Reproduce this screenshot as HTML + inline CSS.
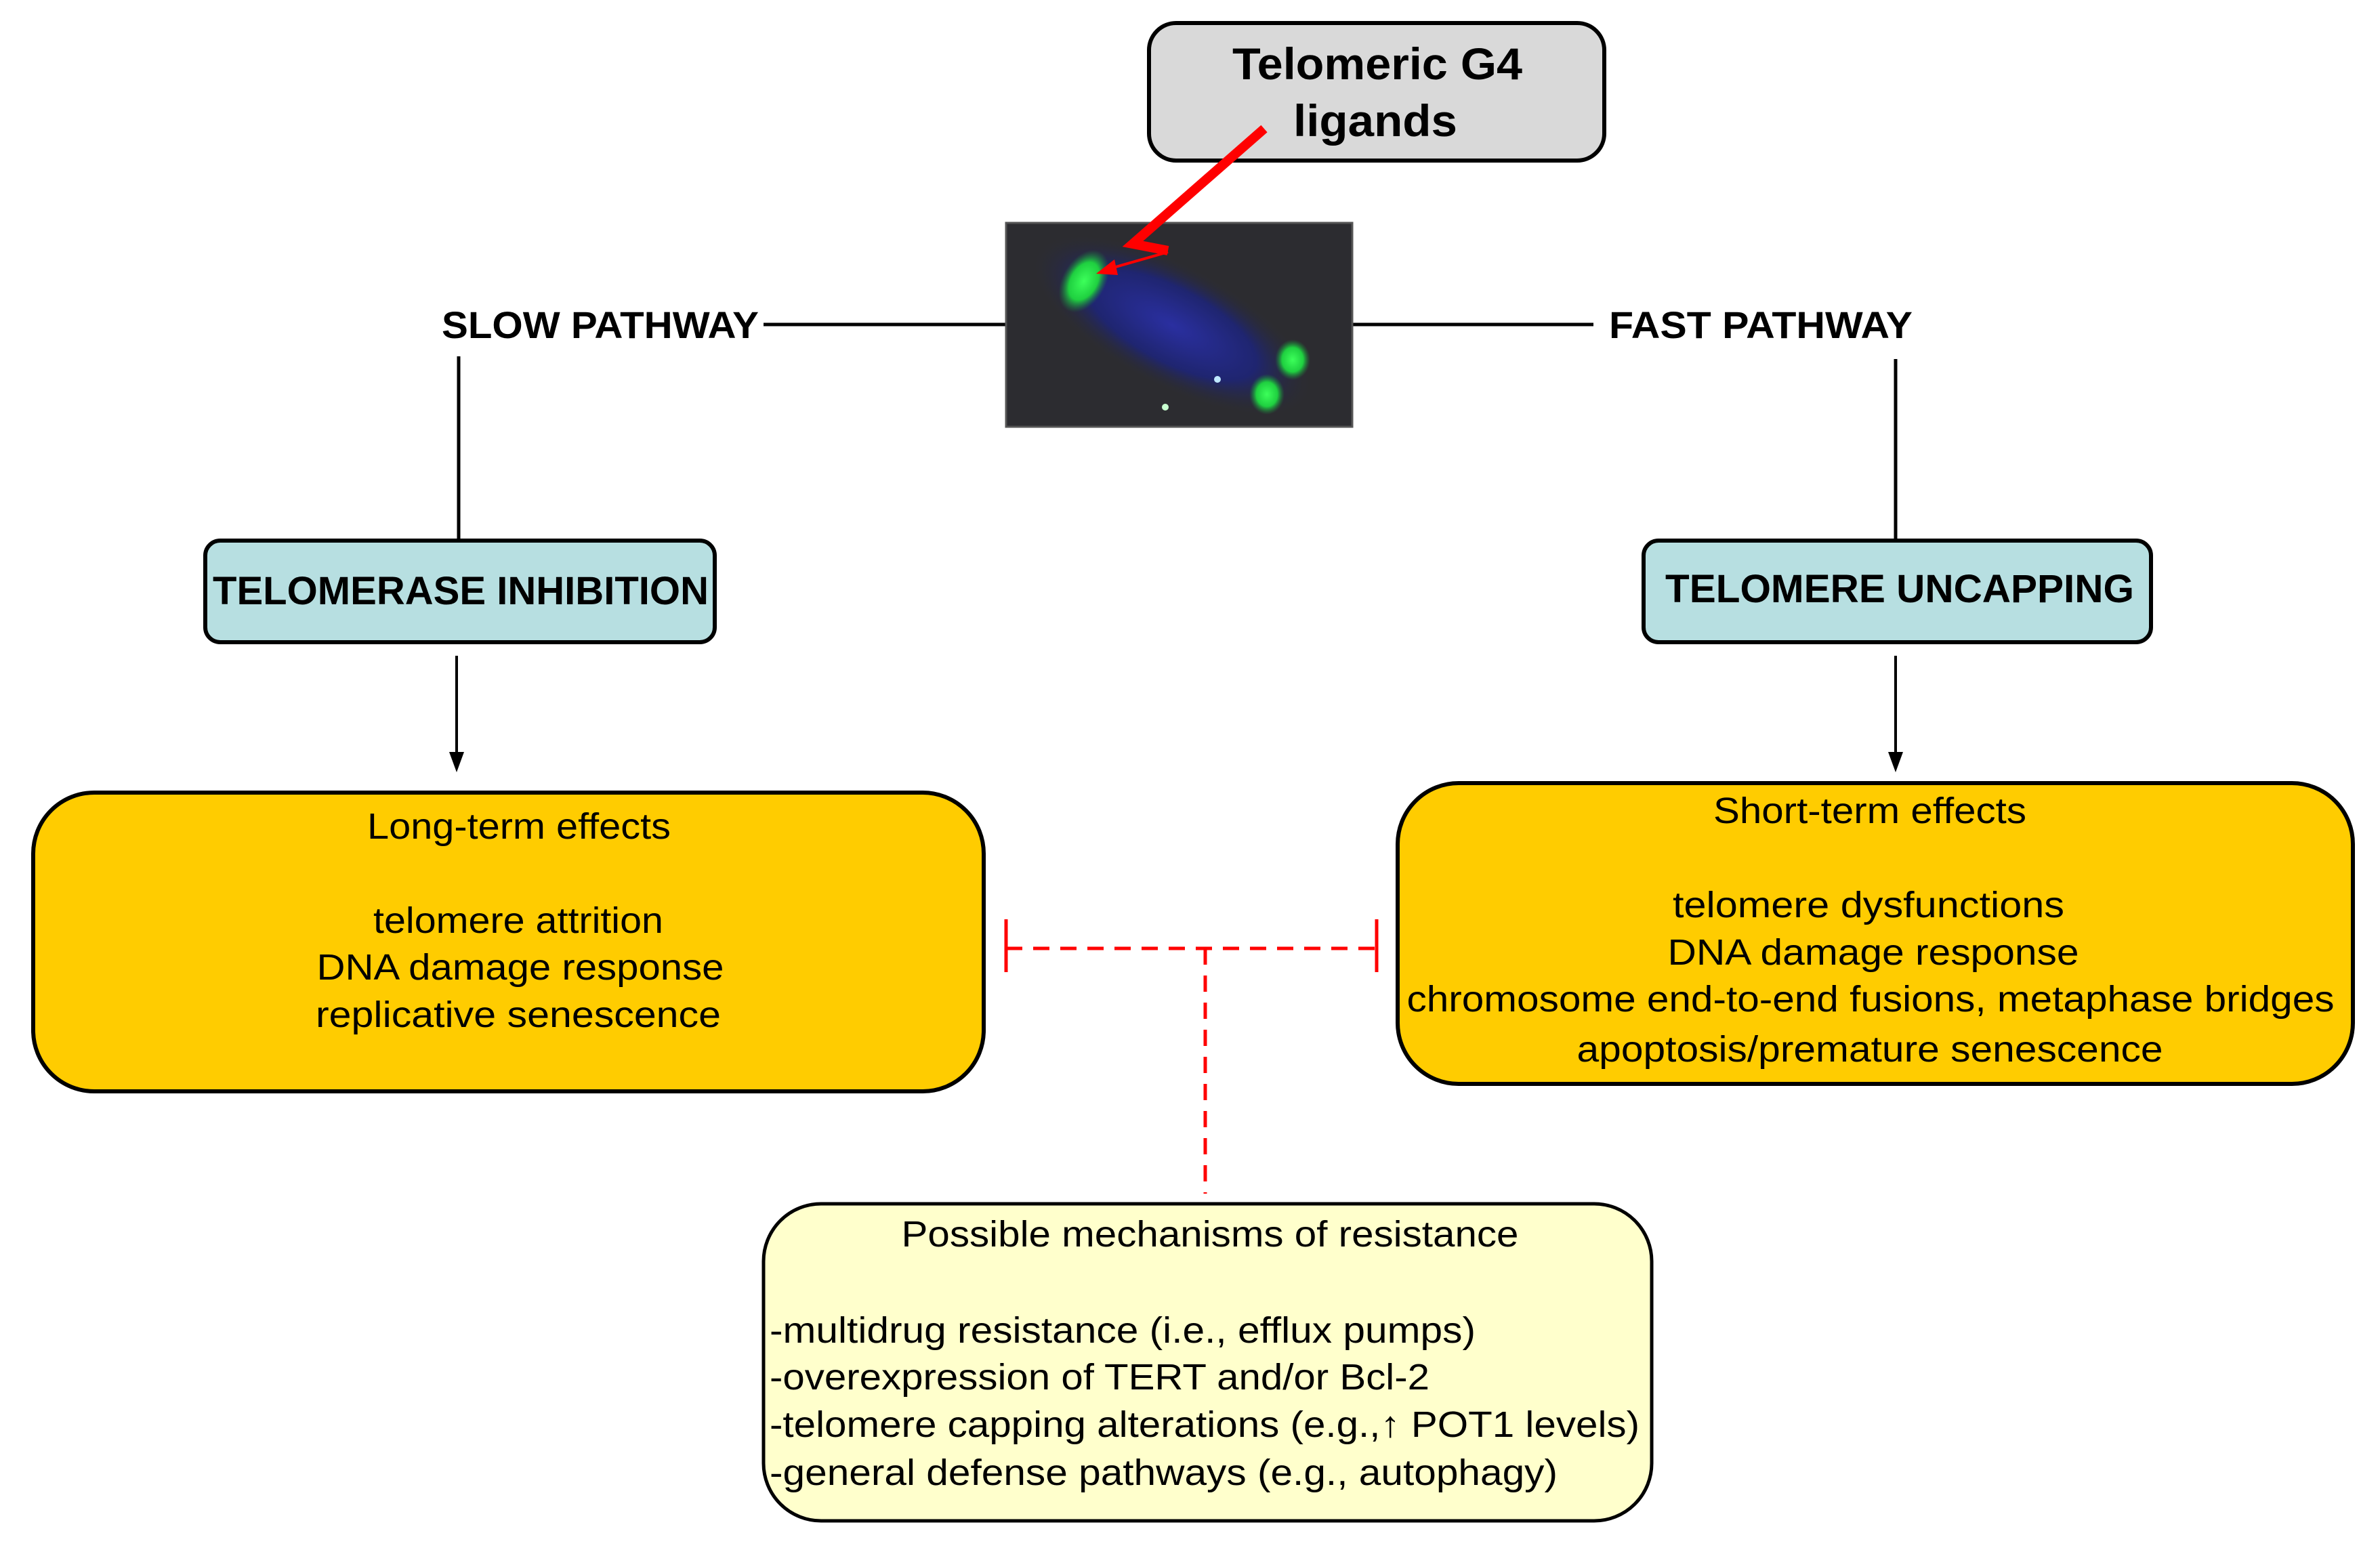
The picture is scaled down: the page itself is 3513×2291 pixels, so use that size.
<!DOCTYPE html>
<html><head><meta charset="utf-8"><style>
html,body{margin:0;padding:0;background:#fff;}
svg{display:block;}
text{font-family:"Liberation Sans",Arial,sans-serif;fill:#000;}
</style></head><body>
<svg width="3513" height="2291" viewBox="0 0 3513 2291" xmlns="http://www.w3.org/2000/svg">
<defs>
<radialGradient id="blue" cx="0.5" cy="0.5" r="0.5">
<stop offset="0" stop-color="#2a2fa0"/><stop offset="0.6" stop-color="#1f2570"/><stop offset="1" stop-color="#2b2b33" stop-opacity="0"/>
</radialGradient>
<radialGradient id="grn" cx="0.5" cy="0.5" r="0.5">
<stop offset="0" stop-color="#3cff5a"/><stop offset="0.6" stop-color="#1fd040"/><stop offset="1" stop-color="#1a8a3a" stop-opacity="0"/>
</radialGradient>
<marker id="ah" markerWidth="10" markerHeight="10" refX="9" refY="5" orient="auto" markerUnits="userSpaceOnUse">
</marker>
</defs>

<!-- Top box -->
<rect x="1696" y="34" width="672" height="203" rx="40" fill="#d9d9d9" stroke="#000" stroke-width="6"/>
<text x="2033" y="117" font-size="66" font-weight="bold" text-anchor="middle" textLength="428" lengthAdjust="spacingAndGlyphs">Telomeric G4</text>
<text x="2030" y="201" font-size="66" font-weight="bold" text-anchor="middle" textLength="242" lengthAdjust="spacingAndGlyphs">ligands</text>

<!-- Horizontal lines -->
<line x1="1127" y1="479" x2="1485" y2="479" stroke="#000" stroke-width="5"/>
<line x1="1996" y1="479" x2="2352" y2="479" stroke="#000" stroke-width="5"/>

<!-- Microscopy image -->
<rect x="1485" y="329" width="511" height="301" fill="#2c2c30" stroke="#555" stroke-width="3"/>
<ellipse cx="1730" cy="480" rx="230" ry="90" transform="rotate(28 1730 480)" fill="url(#blue)"/>
<ellipse cx="1600" cy="415" rx="32" ry="50" transform="rotate(30 1600 415)" fill="url(#grn)"/>
<ellipse cx="1908" cy="531" rx="26" ry="30" fill="url(#grn)"/>
<ellipse cx="1870" cy="582" rx="26" ry="30" fill="url(#grn)"/>
<circle cx="1797" cy="560" r="5" fill="#bfe8ff"/>
<circle cx="1720" cy="601" r="5" fill="#c8ffd0"/>

<!-- Red arrow -->
<polyline points="1866,190 1672,360 1724,370" fill="none" stroke="#ff0000" stroke-width="14" stroke-linejoin="miter"/>
<line x1="1724" y1="372" x2="1640" y2="396" stroke="#ff0000" stroke-width="4"/>
<polygon points="1618,404 1645,383 1650,406" fill="#ff0000"/>

<!-- Pathway labels -->
<text x="652" y="499" font-size="56" font-weight="bold" textLength="468" lengthAdjust="spacingAndGlyphs">SLOW PATHWAY</text>
<text x="2375" y="499" font-size="56" font-weight="bold" textLength="448" lengthAdjust="spacingAndGlyphs">FAST PATHWAY</text>

<!-- Vertical lines -->
<line x1="677" y1="526" x2="677" y2="798" stroke="#000" stroke-width="5"/>
<line x1="2798" y1="530" x2="2798" y2="798" stroke="#000" stroke-width="5"/>

<!-- Blue boxes -->
<rect x="303" y="798" width="752" height="150" rx="22" fill="#b7dfe1" stroke="#000" stroke-width="6"/>
<text x="680" y="892" font-size="58" font-weight="bold" text-anchor="middle" textLength="732" lengthAdjust="spacingAndGlyphs">TELOMERASE INHIBITION</text>
<rect x="2426" y="798" width="749" height="150" rx="22" fill="#b7dfe1" stroke="#000" stroke-width="6"/>
<text x="2804" y="889" font-size="58" font-weight="bold" text-anchor="middle" textLength="692" lengthAdjust="spacingAndGlyphs">TELOMERE UNCAPPING</text>

<!-- Arrows -->
<line x1="674" y1="968" x2="674" y2="1115" stroke="#000" stroke-width="4"/>
<polygon points="663,1110 685,1110 674,1140" fill="#000"/>
<line x1="2798" y1="968" x2="2798" y2="1115" stroke="#000" stroke-width="4"/>
<polygon points="2787,1110 2809,1110 2798,1140" fill="#000"/>

<!-- Long-term box -->
<rect x="49" y="1170" width="1403" height="441" rx="90" fill="#ffcc00" stroke="#000" stroke-width="6"/>
<g font-size="54" text-anchor="middle">
<text x="766" y="1238" textLength="448" lengthAdjust="spacingAndGlyphs">Long-term effects</text>
<text x="765" y="1377" textLength="428" lengthAdjust="spacingAndGlyphs">telomere attrition</text>
<text x="768" y="1446" textLength="601" lengthAdjust="spacingAndGlyphs">DNA damage response</text>
<text x="765" y="1516" textLength="598" lengthAdjust="spacingAndGlyphs">replicative senescence</text>
</g>

<!-- Short-term box -->
<rect x="2063" y="1156" width="1410" height="444" rx="90" fill="#ffcc00" stroke="#000" stroke-width="6"/>
<g font-size="54" text-anchor="middle">
<text x="2760" y="1215" textLength="462" lengthAdjust="spacingAndGlyphs">Short-term effects</text>
<text x="2758" y="1354" textLength="578" lengthAdjust="spacingAndGlyphs">telomere dysfunctions</text>
<text x="2765" y="1424" textLength="607" lengthAdjust="spacingAndGlyphs">DNA damage response</text>
<text x="2761" y="1493" textLength="1369" lengthAdjust="spacingAndGlyphs">chromosome end-to-end fusions, metaphase bridges</text>
<text x="2760" y="1567" textLength="865" lengthAdjust="spacingAndGlyphs">apoptosis/premature senescence</text>
</g>

<!-- Red dashed inhibition -->
<line x1="1485" y1="1400" x2="2032" y2="1400" stroke="#ff0000" stroke-width="5" stroke-dasharray="24,16"/>
<line x1="1485" y1="1357" x2="1485" y2="1435" stroke="#ff0000" stroke-width="5"/>
<line x1="2032" y1="1357" x2="2032" y2="1435" stroke="#ff0000" stroke-width="5"/>
<line x1="1779" y1="1400" x2="1779" y2="1762" stroke="#ff0000" stroke-width="5" stroke-dasharray="24,16"/>

<!-- Resistance box -->
<rect x="1127" y="1777" width="1311" height="468" rx="85" fill="#ffffcc" stroke="#000" stroke-width="5"/>
<g font-size="54">
<text x="1786" y="1840" text-anchor="middle" textLength="911" lengthAdjust="spacingAndGlyphs">Possible mechanisms of resistance</text>
<text x="1136" y="1982" textLength="1042" lengthAdjust="spacingAndGlyphs">-multidrug resistance (i.e., efflux pumps)</text>
<text x="1136" y="2051" textLength="974" lengthAdjust="spacingAndGlyphs">-overexpression of TERT and/or Bcl-2</text>
<text x="1136" y="2121" textLength="1284" lengthAdjust="spacingAndGlyphs">-telomere capping alterations (e.g.,↑ POT1 levels)</text>
<text x="1136" y="2192" textLength="1163" lengthAdjust="spacingAndGlyphs">-general defense pathways (e.g., autophagy)</text>
</g>
</svg>
</body></html>
